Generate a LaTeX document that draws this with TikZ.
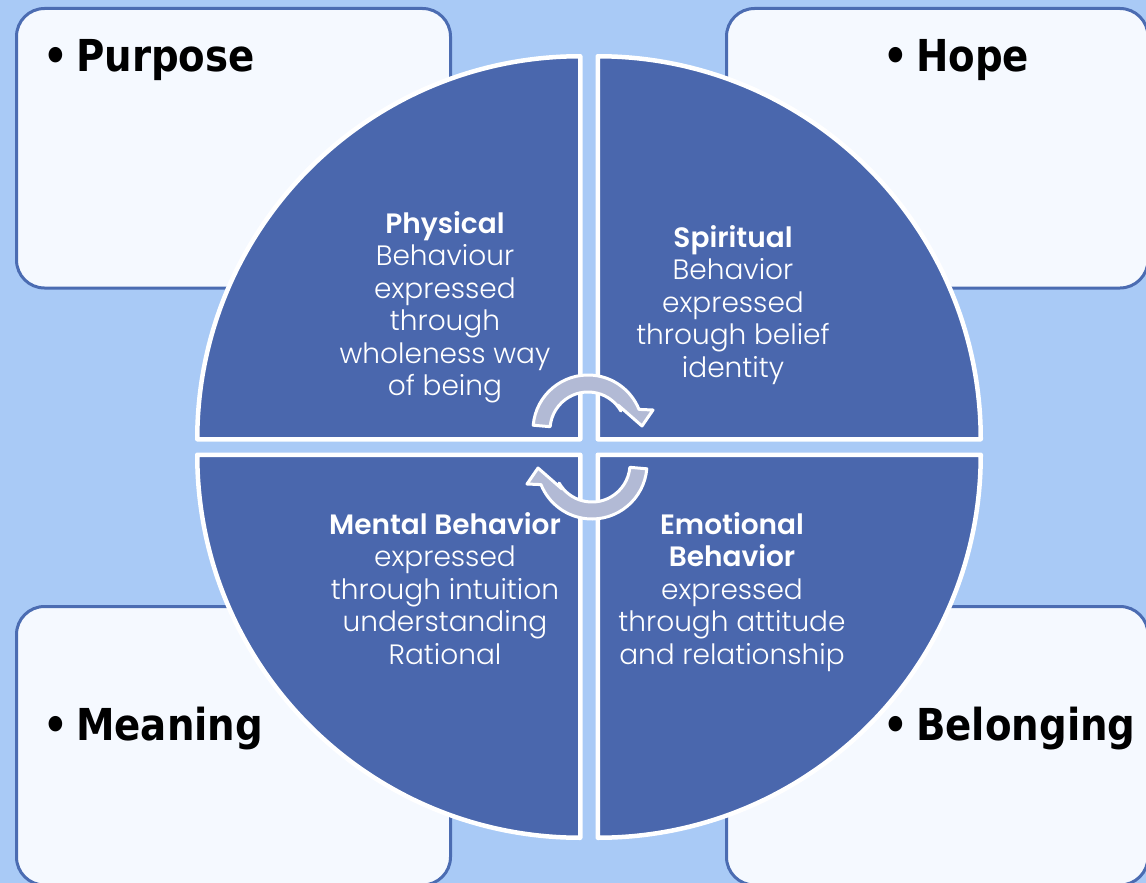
\documentclass[tikz,border=0pt]{standalone}
\usepackage{fontspec}
\IfFontExistsTF{Poppins Light}{%
  \IfFontExistsTF{Poppins SemiBold}%
    {\newfontfamily\qfont{Poppins Light}[BoldFont={Poppins SemiBold}]}%
    {\newfontfamily\qfont{Poppins Light}[BoldFont={Poppins Bold}]}%
}{\newfontfamily\qfont{Poppins}}
\newfontfamily\lblfont{DejaVu Sans}[FakeStretch=0.88]
\definecolor{bgblue}{RGB}{169,202,246}
\definecolor{quadblue}{RGB}{74,103,173}
\definecolor{boxline}{RGB}{75,108,178}
\definecolor{boxfill}{RGB}{245,249,255}
\definecolor{arrowfill}{RGB}{178,186,213}
\tikzset{
  cornerbox/.style={draw=boxline, fill=boxfill, line width=3pt, rounded corners=28pt},
  quad/.style={fill=quadblue, draw=white, line width=4.5pt, line join=round},
  qtext/.style={text=white, inner sep=0pt, anchor=base, font=\qfont\fontsize{28}{32.5}\selectfont},
  lbl/.style={text=black, inner sep=0pt, anchor=base west, font=\lblfont\bfseries\fontsize{44}{53}\selectfont},
  cyclearrow/.pic={
    \filldraw[fill=arrowfill, draw=white, line width=3pt, line join=round]
      (175:38) -- (175:55) arc[start angle=175, end angle=22, radius=55]
      -- (65,20) -- (54,4) -- (30,25) -- (30:38)
      arc[start angle=30, end angle=175, radius=38] -- cycle;
  }
}
\begin{document}
\begin{tikzpicture}[x=1pt,y=1pt]
\useasboundingbox (0,0) rectangle (1146,-883);
\clip (0,0) rectangle (1146,-883);
\fill[bgblue] (0,0) rectangle (1146,-883);
% corner boxes
\draw[cornerbox] (16.5,-8.5) rectangle (450.5,-288);
\draw[cornerbox] (726.5,-8.5) rectangle (1148,-288);
\draw[cornerbox] (16.5,-606.5) rectangle (450.5,-885);
\draw[cornerbox] (726.5,-606.5) rectangle (1148,-885);
% quadrants
\filldraw[quad] (580.25,-439.25) -- ++(-383,0) arc[start angle=180, end angle=90, radius=383] -- cycle;
\filldraw[quad] (597.75,-439.25) -- ++(0,383) arc[start angle=90, end angle=0, radius=383] -- cycle;
\filldraw[quad] (580.25,-454.75) -- ++(-383,0) arc[start angle=180, end angle=270, radius=383] -- cycle;
\filldraw[quad] (597.75,-454.75) -- ++(383,0) arc[start angle=0, end angle=-90, radius=383] -- cycle;
% cycle arrows
\pic at (588,-430) {cyclearrow};
\pic[rotate=180] at (592,-464) {cyclearrow};
% labels
\node[lbl] (purpose) at (43,-71) {\makebox[33pt][l]{•}Purpose};
\node[lbl] (hope) at (883,-71) {\makebox[33pt][l]{•}Hope};
\node[lbl] (meaning) at (43,-740) {\makebox[33pt][l]{•}Meaning};
\node[lbl] (belonging) at (883,-740) {\makebox[33pt][l]{•}Belonging};
% quadrant texts
\node[qtext] (physical) at (445,-233) {\begin{tabular}[t]{@{}c@{}}\textbf{Physical}\\Behaviour\\expressed\\through\\wholeness way\\of being\end{tabular}};
\node[qtext] (spiritual) at (733,-247) {\begin{tabular}[t]{@{}c@{}}\textbf{Spiritual}\\Behavior\\expressed\\through belief\\identity\end{tabular}};
\node[qtext] (mental) at (445,-534) {\begin{tabular}[t]{@{}c@{}}\textbf{Mental Behavior}\\expressed\\through intuition\\understanding\\Rational\end{tabular}};
\node[qtext] (emotional) at (732,-534) {\begin{tabular}[t]{@{}c@{}}\textbf{Emotional}\\\textbf{Behavior}\\expressed\\through attitude\\and relationship\end{tabular}};
\end{tikzpicture}
\end{document}
